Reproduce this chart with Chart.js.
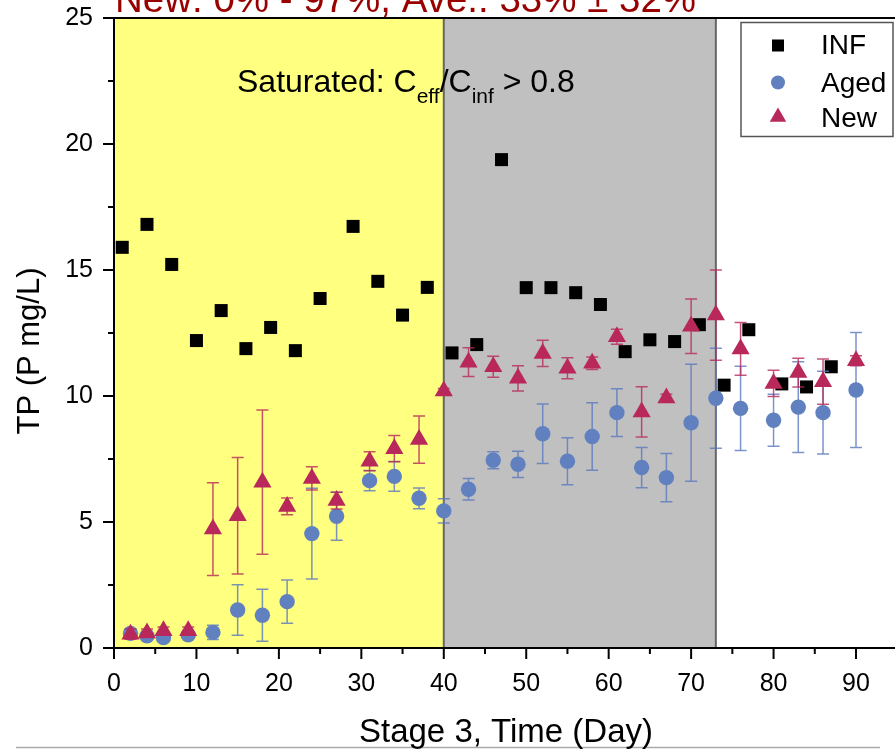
<!DOCTYPE html>
<html><head><meta charset="utf-8">
<script src="https://cdn.jsdelivr.net/npm/chart.js@4/dist/chart.umd.min.js"></script>
<style>html,body{margin:0;padding:0;background:#fff;}canvas{display:block;}</style>
</head><body>
<canvas id="c" width="895" height="750"></canvas>
<script>
// ---------- data ----------
const infDays = [1,4,7,10,13,16,19,22,25,29,32,35,38,41,44,47,50,53,56,59,62,65,68,71,74,77,81,84,87];
const infTP   = [15.90,16.81,15.22,12.20,13.39,11.88,12.72,11.80,13.87,16.73,14.55,13.21,14.31,11.71,12.04,19.38,14.30,14.30,14.10,13.63,11.76,12.23,12.16,12.83,10.43,12.63,10.48,10.36,11.16];

const agedDays = [2,4,6,9,12,15,18,21,24,27,31,34,37,40,43,46,49,52,55,58,61,64,67,70,73,76,80,83,86,90];
const agedTP   = [0.58,0.48,0.41,0.52,0.62,1.51,1.30,1.84,4.54,5.23,6.64,6.81,5.94,5.44,6.30,7.45,7.29,8.50,7.41,8.39,9.34,7.16,6.76,8.94,9.91,9.51,9.04,9.56,9.34,10.24];
const agedErr  = [0.15,0.08,0.08,0.12,0.28,1.0,1.03,0.86,1.8,0.95,0.4,0.59,0.41,0.48,0.43,0.34,0.52,1.18,0.93,1.34,0.95,0.8,0.96,2.32,1.98,1.67,1.03,1.8,1.64,2.28];

const newDays = [2,4,6,9,12,15,18,21,24,27,31,34,37,40,43,46,49,52,55,58,61,64,67,70,73,76,80,83,86,90];
const newTP   = [0.55,0.6,0.68,0.68,4.72,5.25,6.58,5.62,6.73,5.85,7.41,7.91,8.27,10.2,11.34,11.16,10.70,11.69,11.10,11.30,12.35,9.37,9.92,12.77,13.21,11.87,10.50,10.93,10.57,11.40];
const newErr  = [0.2,0.15,0.15,0.15,1.84,2.31,2.86,0.33,0.46,0.33,0.38,0.52,0.94,0.1,0.57,0.42,0.5,0.52,0.42,0.25,0.3,1.0,0.15,1.08,1.79,1.05,0.52,0.57,0.9,0.2];

const stageBounds = [0, 40, 73];        // yellow: 0-40, gray: 40-73
const xTickValues = [0,5,10,15,20,25,30,35,40,45,50,55,60,65,70,75,80,85,90];
const yTickValues = [0,2.5,5,7.5,10,12.5,15,17.5,20,22.5,25];
const seriesNames = ['INF','Aged','New'];
const titleText = 'New: 0% - 97%, Ave.: 33% \u00B1 32%';
const xTitle = 'Stage 3, Time (Day)';
const yTitle = 'TP (P mg/L)';

const FONT = '"Liberation Sans", Arial, sans-serif';
const BLUE = '#6080c0', RED = '#b8285a';

const pts = (d, v) => d.map((x, i) => ({x, y: v[i]}));

const errorBars = {
  id: 'errorBars',
  beforeDatasetDraw(chart, args) {
    const ds = chart.data.datasets[args.index];
    if (!ds.errs) return;
    const xs = chart.scales.x, ys = chart.scales.y, ctx = chart.ctx;
    ctx.save();
    ctx.strokeStyle = ds.errColor;
    ctx.lineWidth = 1.5;
    ds.data.forEach((p, i) => {
      const e = ds.errs[i];
      const px = xs.getPixelForValue(p.x);
      const t = ys.getPixelForValue(p.y + e), b = ys.getPixelForValue(p.y - e);
      ctx.beginPath();
      ctx.moveTo(px, t); ctx.lineTo(px, b);
      ctx.moveTo(px - 6, t); ctx.lineTo(px + 6, t);
      ctx.moveTo(px - 6, b); ctx.lineTo(px + 6, b);
      ctx.stroke();
    });
    ctx.restore();
  }
};

const bands = {
  id: 'bands',
  beforeDraw(chart) {
    const {ctx, chartArea: a, scales: {x}} = chart;
    const p0 = x.getPixelForValue(stageBounds[0]);
    const p1 = x.getPixelForValue(stageBounds[1]);
    const p2 = x.getPixelForValue(stageBounds[2]);
    ctx.save();
    ctx.fillStyle = '#ffff80';
    ctx.fillRect(p0, a.top, p1 - p0, a.bottom - a.top);
    ctx.fillStyle = '#c0c0c0';
    ctx.fillRect(p1, a.top, p2 - p1, a.bottom - a.top);
    ctx.strokeStyle = '#666';
    ctx.lineWidth = 2;
    ctx.beginPath();
    ctx.moveTo(p1, a.top); ctx.lineTo(p1, a.bottom);
    ctx.moveTo(p2, a.top); ctx.lineTo(p2, a.bottom);
    ctx.stroke();
    ctx.restore();
  }
};

function drawMarker(ctx, style, x, y, r, color) {
  ctx.fillStyle = color;
  ctx.beginPath();
  if (style === 'rect') {
    const s = Math.SQRT1_2 * r;
    ctx.rect(x - s, y - s, 2 * s, 2 * s);
  } else if (style === 'circle') {
    ctx.arc(x, y, r, 0, Math.PI * 2);
  } else {
    const w = r * Math.sin(Math.PI / 3);
    ctx.moveTo(x, y - r);
    ctx.lineTo(x + w, y + r / 2);
    ctx.lineTo(x - w, y + r / 2);
    ctx.closePath();
  }
  ctx.fill();
}

const decor = {
  id: 'decor',
  afterDraw(chart) {
    const {ctx, chartArea: a, scales: {x, y}} = chart;
    ctx.save();
    // frame lines
    ctx.strokeStyle = '#000'; ctx.lineWidth = 2;
    ctx.beginPath(); ctx.moveTo(a.left - 1, a.top); ctx.lineTo(895, a.top); ctx.stroke();
    ctx.beginPath(); ctx.moveTo(a.left - 1, a.bottom); ctx.lineTo(895, a.bottom); ctx.stroke();
    // ticks
    xTickValues.forEach(v => {
      const px = x.getPixelForValue(v);
      const len = v % 10 === 0 ? 11 : 6;
      ctx.beginPath(); ctx.moveTo(px, a.bottom); ctx.lineTo(px, a.bottom + len); ctx.stroke();
    });
    yTickValues.forEach(v => {
      const py = y.getPixelForValue(v);
      const len = v % 5 === 0 ? 11 : 6;
      ctx.beginPath(); ctx.moveTo(a.left, py); ctx.lineTo(a.left - len, py); ctx.stroke();
    });
    // bottom gray rule
    ctx.strokeStyle = '#aaa'; ctx.lineWidth = 1.5;
    ctx.beginPath(); ctx.moveTo(16, 747.5); ctx.lineTo(880, 747.5); ctx.stroke();

    // title (partly clipped)
    ctx.fillStyle = '#990000';
    ctx.font = '38.5px ' + FONT;
    ctx.textAlign = 'left'; ctx.textBaseline = 'alphabetic';
    ctx.fillText(titleText, 115, 12);

    // saturated text
    ctx.fillStyle = '#000';
    let cx = 237;
    const parts = [['Saturated: C', 32, 0], ['eff', 21, 11], ['/C', 32, 0], ['inf', 21, 11], [' > 0.8', 32, 0]];
    parts.forEach(([t, s, dy]) => {
      ctx.font = s + 'px ' + FONT;
      ctx.fillText(t, cx, 91.5 + dy);
      cx += ctx.measureText(t).width;
    });

    // axis titles
    ctx.textAlign = 'center';
    ctx.font = '33px ' + FONT;
    ctx.fillText(xTitle, 506, 742);
    ctx.font = '31px ' + FONT;
    ctx.save();
    ctx.translate(38.5, 351);
    ctx.rotate(-Math.PI / 2);
    ctx.fillText(yTitle, 0, 0);
    ctx.restore();

    // legend
    ctx.fillStyle = '#fff';
    ctx.fillRect(741, 22.5, 152, 114);
    ctx.strokeStyle = '#555'; ctx.lineWidth = 1.5;
    ctx.strokeRect(741, 22.5, 152, 114);
    const ds = chart.data.datasets;
    const ly = [45.5, 82.5, 117];
    const lb = [54, 91.5, 127];
    const lr = [8.5, 7, 9.5];
    ds.forEach((d, i) => {
      drawMarker(ctx, d.pointStyle, 778, ly[i], lr[i], d.backgroundColor);
      ctx.fillStyle = '#000';
      ctx.font = '28px ' + FONT;
      ctx.textAlign = 'left';
      ctx.fillText(d.label, 821, lb[i]);
    });
    ctx.restore();
  }
};

new Chart(document.getElementById('c'), {
  type: 'scatter',
  data: {
    datasets: [
      {label: seriesNames[0], data: pts(infDays, infTP), pointStyle: 'rect', pointRadius: 9.2,
       backgroundColor: '#000', borderColor: '#000', borderWidth: 0, order: 3},
      {label: seriesNames[1], data: pts(agedDays, agedTP), errs: agedErr, errColor: 'rgba(90,120,190,0.8)',
       pointStyle: 'circle', pointRadius: 7.7, backgroundColor: BLUE, borderColor: BLUE, borderWidth: 0, order: 2},
      {label: seriesNames[2], data: pts(newDays, newTP), errs: newErr, errColor: 'rgba(184,40,90,0.8)',
       pointStyle: 'triangle', pointRadius: 10.5, backgroundColor: RED, borderColor: RED, borderWidth: 0, order: 1}
    ]
  },
  options: {
    responsive: false,
    animation: false,
    events: [],
    layout: {autoPadding: false, padding: {top: 18, right: 0, left: 0, bottom: 0}},
    plugins: {legend: {display: false}, tooltip: {enabled: false}},
    scales: {
      x: {
        type: 'linear', min: 0, max: 94.73,
        afterFit(s) { s.height = 102; s.paddingLeft = 0; s.paddingRight = 0; s.paddingTop = 0; s.paddingBottom = 0; },
        afterBuildTicks(s) { s.ticks = xTickValues.map(v => ({value: v})); },
        grid: {display: false, drawTicks: false},
        border: {display: true, color: '#000', width: 2},
        ticks: {autoSkip: false, maxRotation: 0, padding: 21, color: '#000',
                font: {family: FONT, size: 25},
                callback: v => (v % 10 === 0 ? String(v) : '')}
      },
      y: {
        type: 'linear', min: 0, max: 25,
        afterFit(s) { s.width = 114; s.paddingLeft = 0; s.paddingRight = 0; s.paddingTop = 0; s.paddingBottom = 0; },
        afterBuildTicks(s) { s.ticks = yTickValues.map(v => ({value: v})); },
        grid: {display: false, drawTicks: false},
        border: {display: true, color: '#000', width: 2},
        ticks: {autoSkip: false, padding: 21, color: '#000',
                font: {family: FONT, size: 25},
                callback: v => (v % 5 === 0 ? String(v) : '')}
      }
    }
  },
  plugins: [bands, errorBars, decor]
});
</script>
</body></html>
